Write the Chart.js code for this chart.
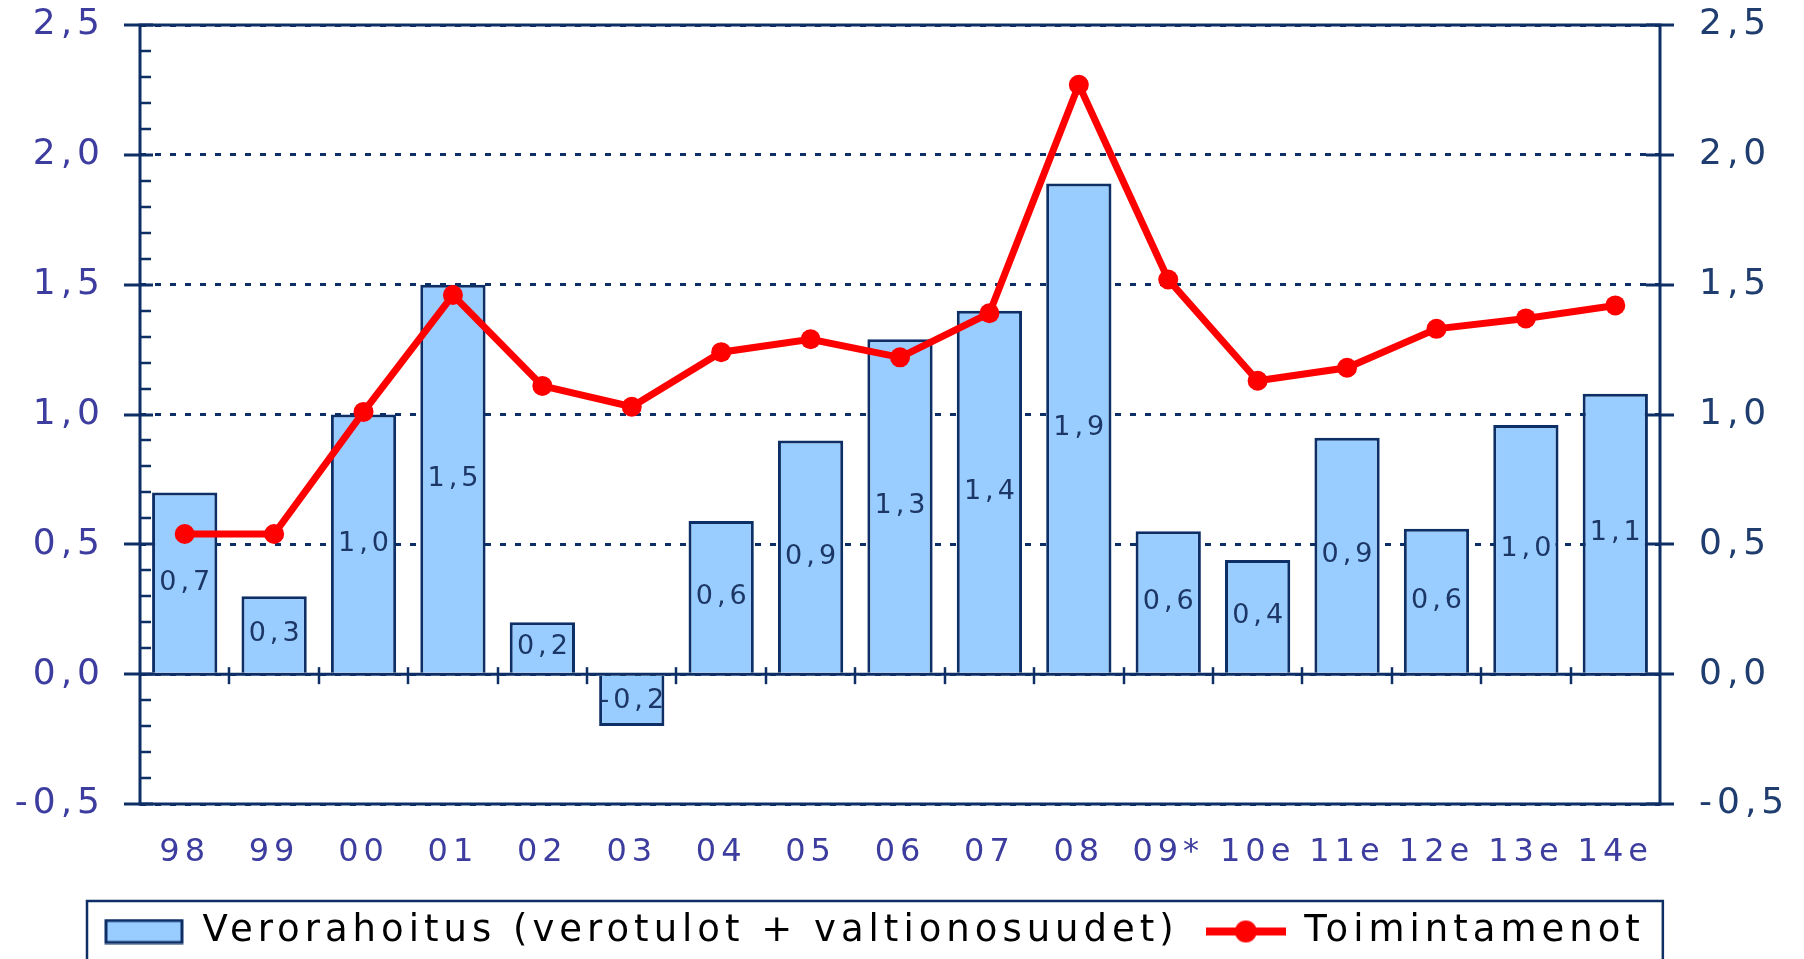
<!DOCTYPE html>
<html>
<head>
<meta charset="utf-8">
<title>Verorahoitus ja toimintamenot</title>
<script src="https://cdn.jsdelivr.net/npm/chart.js@4/dist/chart.umd.min.js"></script>
<style>
  html, body { margin: 0; padding: 0; background: #fff; overflow: hidden; }
  canvas { display: block; }
</style>
</head>
<body>
<canvas id="chart" width="1804" height="959"></canvas>
<script>
// vuodet (x-akseli)
const vuodet = ['98', '99', '00', '01', '02', '03', '04', '05', '06', '07', '08', '09*', '10e', '11e', '12e', '13e', '14e'];
// pylväät: verorahoitus (verotulot + valtionosuudet)
const verorahoitus = [0.70, 0.30, 1.00, 1.50, 0.20, -0.20, 0.59, 0.90, 1.29, 1.40, 1.89, 0.55, 0.44, 0.91, 0.56, 0.96, 1.08];
// viiva: toimintamenot
const toimintamenot = [0.54, 0.54, 1.01, 1.46, 1.11, 1.03, 1.24, 1.29, 1.22, 1.39, 2.27, 1.52, 1.13, 1.18, 1.33, 1.37, 1.42];
// y-akselin jaot
const yJaot = [-0.5, 0.0, 0.5, 1.0, 1.5, 2.0, 2.5];

const NAVY = '#0d2f66';
const PUNAINEN = '#ff0000';
const SININEN = '#99ccff';
const FONTTI = "'DejaVu Sans', sans-serif";

const pilkku = v => Number(v).toFixed(1).replace('.', ',');

// legendan kuvakkeet
function pylvasKuvake() {
    const c = document.createElement('canvas');
    c.width = 80; c.height = 26;
    const g = c.getContext('2d');
    g.fillStyle = SININEN;
    g.fillRect(2, 2, 76, 22);
    g.strokeStyle = NAVY;
    g.lineWidth = 3;
    g.strokeRect(2, 2, 76, 22);
    return c;
}
function viivaKuvake() {
    const c = document.createElement('canvas');
    c.width = 80; c.height = 26;
    const g = c.getContext('2d');
    g.strokeStyle = PUNAINEN;
    g.lineWidth = 8;
    g.beginPath(); g.moveTo(0, 13); g.lineTo(80, 13); g.stroke();
    g.fillStyle = PUNAINEN;
    g.beginPath(); g.arc(40, 13, 11, 0, Math.PI * 2); g.fill();
    return c;
}

// kirjainväli kaikille teksteille
const kirjainvali = {
    id: 'kirjainvali',
    beforeUpdate(chart) { chart.ctx.letterSpacing = '5px'; },
    beforeLayout(chart) { chart.ctx.letterSpacing = '5px'; },
    beforeDraw(chart) { chart.ctx.letterSpacing = '5px'; }
};

// legendan siirto ja kehys
const legendaSijainti = {
    id: 'legendaSijainti',
    afterUpdate(chart) {
        const lg = chart.legend;
        if (!lg || !lg.legendHitBoxes.length) return;
        const dx = 104 - lg.legendHitBoxes[0].left;
        const dy = 913 - lg.legendHitBoxes[0].top;
        lg.left += dx; lg.right += dx; lg.top += dy; lg.bottom += dy;
        lg.legendHitBoxes.forEach(hb => { hb.left += dx; hb.top += dy; });
    },
    afterDraw(chart) {
        const hb = chart.legend.legendHitBoxes;
        const last = hb[hb.length - 1];
        const ctx = chart.ctx;
        const x0 = hb[0].left - 17;
        ctx.save();
        ctx.strokeStyle = NAVY;
        ctx.lineWidth = 2.5;
        ctx.strokeRect(x0, hb[0].top - 12, last.left + last.width + 18 - x0, 100);
        ctx.restore();
    }
};

// kehys, nollaviiva ja jakoviivat
const kehys = {
    id: 'kehys',
    beforeDatasetsDraw(chart) {
        const { ctx, chartArea: a, scales } = chart;
        const y = scales.y;
        const y0 = y.getPixelForValue(0);
        ctx.save();
        ctx.strokeStyle = NAVY;
        ctx.lineCap = 'butt';
        // pienet jaot vasemmalla
        ctx.lineWidth = 2.5;
        for (let k = -5; k <= 25; k++) {
            if (k % 5 === 0) continue;
            const py = Math.round(y.getPixelForValue(k / 10));
            ctx.beginPath(); ctx.moveTo(a.left, py); ctx.lineTo(a.left + 11, py); ctx.stroke();
        }
        // isot jaot molemmin puolin
        ctx.lineWidth = 3;
        yJaot.forEach(v => {
            const py = Math.round(y.getPixelForValue(v));
            ctx.beginPath(); ctx.moveTo(a.left - 16, py); ctx.lineTo(a.left + 13, py); ctx.stroke();
            ctx.beginPath(); ctx.moveTo(a.right - 14, py); ctx.lineTo(a.right + 14, py); ctx.stroke();
        });
        // kehys
        ctx.strokeRect(a.left, a.top, a.right - a.left, a.bottom - a.top);
        // nollaviiva
        ctx.beginPath(); ctx.moveTo(a.left, y0); ctx.lineTo(a.right, y0); ctx.stroke();
        // x-jaot luokkien välissä
        ctx.lineWidth = 2.5;
        const x = scales.x;
        for (let i = 1; i < vuodet.length; i++) {
            const px = Math.round((x.getPixelForValue(i - 1) + x.getPixelForValue(i)) / 2);
            ctx.beginPath(); ctx.moveTo(px, y0 - 7); ctx.lineTo(px, y0 + 10); ctx.stroke();
        }
        ctx.restore();
    }
};

// arvot pylväiden sisään
const arvot = {
    id: 'arvot',
    afterDatasetDraw(chart, args) {
        if (args.index !== 0) return;
        const ctx = chart.ctx;
        const meta = chart.getDatasetMeta(0);
        ctx.save();
        ctx.letterSpacing = '4px';
        ctx.font = '27px ' + FONTTI;
        ctx.fillStyle = '#1c3765';
        ctx.textAlign = 'center';
        ctx.textBaseline = 'middle';
        meta.data.forEach((el, i) => {
            ctx.fillText(pilkku(verorahoitus[i]), el.x + 2, (el.y + el.base) / 2);
        });
        ctx.restore();
    }
};

const jaot = scale => { scale.ticks = yJaot.map(v => ({ value: v })); };

new Chart(document.getElementById('chart').getContext('2d'), {
    type: 'bar',
    data: {
        labels: vuodet,
        datasets: [
            {
                type: 'bar',
                label: 'Verorahoitus (verotulot + valtionosuudet)',
                data: verorahoitus,
                backgroundColor: SININEN,
                borderColor: NAVY,
                borderWidth: 3,
                barPercentage: 0.73,
                categoryPercentage: 1,
                order: 1
            },
            {
                type: 'line',
                label: 'Toimintamenot',
                data: toimintamenot,
                borderColor: PUNAINEN,
                backgroundColor: PUNAINEN,
                borderWidth: 7,
                pointRadius: 10,
                pointBorderWidth: 0,
                pointBackgroundColor: PUNAINEN,
                tension: 0,
                order: 0
            }
        ]
    },
    options: {
        responsive: false,
        animation: false,
        devicePixelRatio: 1,
        layout: { padding: { top: 25, left: 0, right: 0, bottom: 0 } },
        font: { family: FONTTI },
        plugins: {
            tooltip: { enabled: false },
            legend: {
                position: 'bottom',
                labels: {
                    usePointStyle: true,
                    pointStyleWidth: 80,
                    boxHeight: 26,
                    padding: 27,
                    color: '#000',
                    font: { family: FONTTI, size: 37 },
                    generateLabels(chart) {
                        const items = Chart.defaults.plugins.legend.labels.generateLabels(chart);
                        items.sort((a, b) => a.datasetIndex - b.datasetIndex);
                        items.forEach(it => {
                            it.pointStyle = it.datasetIndex === 0 ? pylvasKuvake() : viivaKuvake();
                        });
                        return items;
                    }
                }
            }
        },
        scales: {
            x: {
                grid: { display: false },
                border: { display: false },
                ticks: { color: '#3d3d9f', font: { family: FONTTI, size: 32 }, padding: 21, maxRotation: 0, autoSkip: false },
                afterFit(s) { s.height = 81; s.paddingLeft = 0; s.paddingRight = 0; }
            },
            y: {
                position: 'left',
                min: -0.5,
                max: 2.5,
                afterBuildTicks: jaot,
                grid: { color: NAVY, lineWidth: 3, drawTicks: false },
                border: { display: false, dash: [6, 9] },
                ticks: { color: '#3d3d9f', font: { family: FONTTI, size: 36 }, padding: 35, callback: pilkku },
                afterFit(s) { s.width = 140; s.paddingTop = 0; s.paddingBottom = 0; }
            },
            y2: {
                position: 'right',
                min: -0.5,
                max: 2.5,
                afterBuildTicks: jaot,
                grid: { display: false, drawTicks: false },
                border: { display: false },
                ticks: { color: '#1f3d6e', font: { family: FONTTI, size: 36 }, padding: 39, callback: pilkku },
                afterFit(s) { s.width = 144; s.paddingTop = 0; s.paddingBottom = 0; }
            }
        }
    },
    plugins: [kirjainvali, legendaSijainti, kehys, arvot]
});
</script>
</body>
</html>
